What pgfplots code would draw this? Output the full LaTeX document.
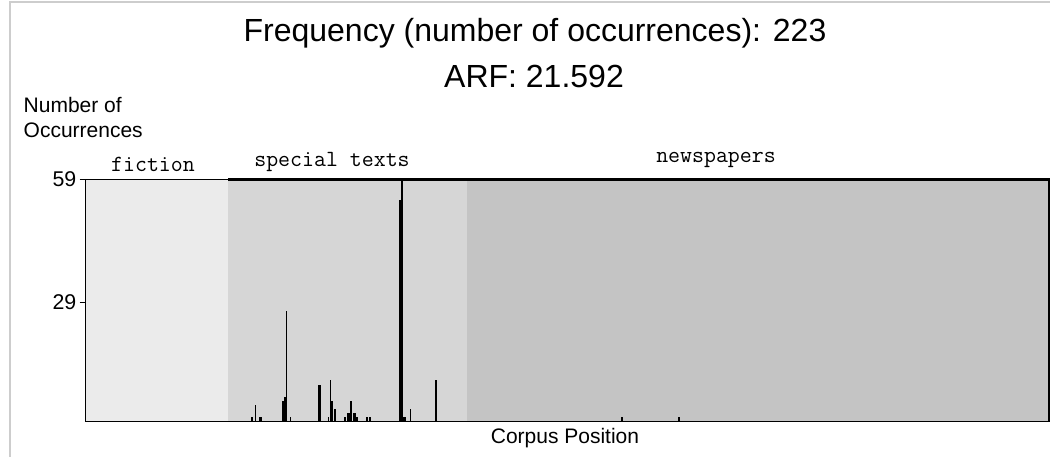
\documentclass[border=0pt]{standalone}
\usepackage{pgfplots}
\pgfplotsset{compat=1.18}
\usepackage{fontspec}
\setmainfont{Liberation Sans}
\newcommand{\monof}{\ttfamily\addfontfeatures{FakeBold=1.5}}
\definecolor{cfic}{RGB}{235,235,235}
\definecolor{cspe}{RGB}{214,214,214}
\definecolor{cnew}{RGB}{196,196,196}
\definecolor{frame}{RGB}{205,205,205}
\newcommand{\PX}[2]{({#1*0.75pt},{(457-#2)*0.75pt})}
\begin{document}
\begin{tikzpicture}
\useasboundingbox (0,0) rectangle (787.5pt,342.75pt);
\fill[white] (0,0) rectangle (787.5pt,342.75pt);
\draw[frame, line width=1pt] \PX{10}{457} -- \PX{10}{2} -- \PX{1050}{2};
\begin{axis}[
  at={(63.75pt,26.625pt)}, anchor=south west,
  scale only axis, width=723pt, height=181.5pt,
  xmin=85, xmax=1049, ymin=0, ymax=59,
  xtick=\empty, ytick={29,59},
  ytick pos=left, tick align=outside, major tick length=4pt,
  tick style={black, line width=0.6pt},
  /pgf/number format/assume math mode=true,
  yticklabel style={font=\fontsize{16}{18}\selectfont, xshift=1pt},
  axis line style={black, line width=0.6pt},
  axis on top, clip=false,
]
% corpus parts
\addplot[fill=cfic, draw=none] coordinates {(85,59) (228,59)} \closedcycle;
\addplot[fill=cspe, draw=none] coordinates {(228,59) (467,59)} \closedcycle;
\addplot[fill=cnew, draw=none] coordinates {(467,59) (1049,59)} \closedcycle;
% thick bars
\addplot[ycomb, black, line width=2.1pt, mark=none] coordinates {
 (252,1) (260.7,1) (283.3,5) (285.7,6) (319.3,9) (331.7,5) (335,3)
 (348.7,2) (351,5) (354.7,2) (400,54) (404.7,1) (436,10)
};
% thin bars
\addplot[ycomb, black, line width=0.9pt, mark=none] coordinates {
 (255.3,4) (286.7,27) (290.3,1) (328.7,1) (330.3,10) (345,1) (357,1)
 (367,1) (369.7,1) (370.7,1) (402,59) (410.7,3) (622,1) (679,1)
};
% top and right border of the labelled parts
\addplot[black, line width=1.6pt, mark=none] coordinates {(228,59) (1049,59) (1049,0)};
\end{axis}
\node[font=\fontsize{24}{28}\selectfont] at \PX{535}{33} {Frequency (number of occurrences): 223};
\node[font=\fontsize{24}{28}\selectfont] at \PX{534}{76} {ARF: 21.592};
\node[font=\fontsize{15.75}{18}\selectfont, anchor=west] at \PX{19}{105} {Number of};
\node[font=\fontsize{15.75}{18}\selectfont, anchor=west] at \PX{19}{130} {Occurrences};
\node[font=\monof\fontsize{17.4}{20}\selectfont] at \PX{153}{164} {fiction};
\node[font=\monof\fontsize{17.4}{20}\selectfont] at \PX{332}{162} {special texts};
\node[font=\monof\fontsize{17.4}{20}\selectfont] at \PX{716}{160} {newspapers};
\node[font=\fontsize{15.75}{18}\selectfont] at \PX{565}{438} {Corpus Position};
\end{tikzpicture}
\end{document}
